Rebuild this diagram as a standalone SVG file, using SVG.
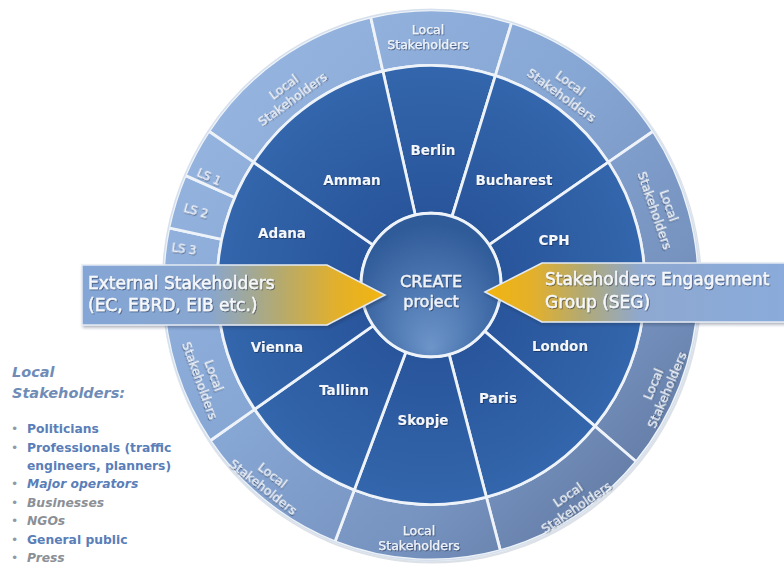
<svg xmlns="http://www.w3.org/2000/svg" width="784" height="564" viewBox="0 0 784 564">
<defs>
  <linearGradient id="ringGrad" gradientUnits="userSpaceOnUse" x1="-268" y1="-268" x2="268" y2="268">
    <stop offset="0" stop-color="#9bb9e3"/>
    <stop offset="0.45" stop-color="#86a6d4"/>
    <stop offset="0.7" stop-color="#7793c0"/>
    <stop offset="1" stop-color="#566e95"/>
  </linearGradient>
  <radialGradient id="diskGrad" gradientUnits="userSpaceOnUse" cx="0" cy="0" r="214">
    <stop offset="0.3" stop-color="#28549a"/>
    <stop offset="1" stop-color="#3366ac"/>
  </radialGradient>
  <radialGradient id="hubGrad" gradientUnits="userSpaceOnUse" cx="0" cy="20" r="80" fx="0" fy="62">
    <stop offset="0" stop-color="#6d95ca"/>
    <stop offset="1" stop-color="#2f5b99"/>
  </radialGradient>
  <linearGradient id="leftArrowGrad" gradientUnits="userSpaceOnUse" x1="82" y1="0" x2="385" y2="0">
    <stop offset="0" stop-color="#84a6d6"/>
    <stop offset="0.42" stop-color="#88a6cf"/>
    <stop offset="0.66" stop-color="#b6aa6c"/>
    <stop offset="0.84" stop-color="#e2b02b"/>
    <stop offset="1" stop-color="#f2b510"/>
  </linearGradient>
  <linearGradient id="rightArrowGrad" gradientUnits="userSpaceOnUse" x1="485" y1="0" x2="784" y2="0">
    <stop offset="0" stop-color="#f2b510"/>
    <stop offset="0.16" stop-color="#e3b02b"/>
    <stop offset="0.32" stop-color="#b4aa70"/>
    <stop offset="0.52" stop-color="#8ea8d0"/>
    <stop offset="1" stop-color="#8aabdb"/>
  </linearGradient>
  <filter id="ts" x="-10%" y="-30%" width="130%" height="160%">
    <feDropShadow dx="0.8" dy="1" stdDeviation="0.6" flood-color="#0d1f3a" flood-opacity="0.55"/>
  </filter>
  <filter id="as" x="-5%" y="-20%" width="115%" height="150%">
    <feDropShadow dx="1.5" dy="2" stdDeviation="1.5" flood-color="#1b2a40" flood-opacity="0.35"/>
  </filter>
  <style>
    .sector{fill:url(#diskGrad);stroke:#eef3f9;stroke-width:2.8;vector-effect:non-scaling-stroke;stroke-linejoin:round}
    .seg{fill:url(#ringGrad);stroke:#eef3f9;stroke-width:2.8;vector-effect:non-scaling-stroke;stroke-linejoin:round}
    .city{font-family:"DejaVu Sans",sans-serif;font-weight:bold;font-size:13.5px;fill:#f3f6fb;text-anchor:middle;filter:url(#ts)}
    .ls{font-family:"DejaVu Sans",sans-serif;font-size:12.5px;fill:#eef3fa;stroke:#eef3fa;stroke-width:0.25;text-anchor:middle;filter:url(#ts)}
    .lss{font-family:"DejaVu Sans",sans-serif;font-size:11.5px;fill:#eef3fa;stroke:#eef3fa;stroke-width:0.25;text-anchor:middle;filter:url(#ts)}
    .arrowtxt{font-family:"DejaVu Sans",sans-serif;font-size:17px;fill:#f6f8fb;stroke:#f6f8fb;stroke-width:0.45;filter:url(#ts)}
    .hubtxt{font-family:"DejaVu Sans",sans-serif;font-size:16px;fill:#eef2f8;stroke:#eef2f8;stroke-width:0.45;text-anchor:middle;filter:url(#ts)}
    .lh{font-family:"DejaVu Sans",sans-serif;font-size:14.5px;font-weight:bold;font-style:italic;fill:#6f8cb7}
    .li{font-family:"DejaVu Sans",sans-serif;font-size:12.3px;font-weight:bold;fill:#5a7eb8}
    .lg{font-family:"DejaVu Sans",sans-serif;font-size:12.3px;font-weight:bold;font-style:italic;fill:#8b8f96}
    .bul{font-family:"DejaVu Sans",sans-serif;font-size:12.3px;fill:#8f9aa8}
  </style>
</defs>

<rect width="784" height="564" fill="#ffffff"/>

<!-- wheel shadow -->
<ellipse cx="432" cy="286.5" rx="270" ry="277" fill="#b9c4d2" opacity="0.5"/>

<g id="wheel" transform="translate(431,285) scale(1,1.026)">
  <!-- outer ring segments -->
  <g id="ls-amman"><path class="seg" d="M-222.17,-149.87 A268,268 0 0 1 -60.30,-261.14 L-48.15,-208.52 A214,214 0 0 0 -177.41,-119.67 Z"/></g>
  <g id="ls-berlin"><path class="seg" d="M-60.30,-261.14 A268,268 0 0 1 80.59,-255.59 L64.35,-204.09 A214,214 0 0 0 -48.15,-208.52 Z"/></g>
  <g id="ls-bucharest"><path class="seg" d="M80.59,-255.59 A268,268 0 0 1 222.17,-149.87 L177.41,-119.67 A214,214 0 0 0 64.35,-204.09 Z"/></g>
  <g id="ls-cph"><path class="seg" d="M222.17,-149.87 A268,268 0 0 1 267.62,14.02 L213.70,11.19 A214,214 0 0 0 177.41,-119.67 Z"/></g>
  <g id="ls-london"><path class="seg" d="M267.62,14.02 A268,268 0 0 1 205.29,172.27 L163.92,137.56 A214,214 0 0 0 213.70,11.19 Z"/></g>
  <g id="ls-paris"><path class="seg" d="M205.29,172.27 A268,268 0 0 1 69.36,258.86 L55.38,206.70 A214,214 0 0 0 163.92,137.56 Z"/></g>
  <g id="ls-skopje"><path class="seg" d="M69.36,258.86 A268,268 0 0 1 -96.05,250.20 L-76.70,199.79 A214,214 0 0 0 55.38,206.70 Z"/></g>
  <g id="ls-tallinn"><path class="seg" d="M-96.05,250.20 A268,268 0 0 1 -220.86,151.80 L-176.36,121.21 A214,214 0 0 0 -76.70,199.79 Z"/></g>
  <g id="ls-vienna"><path class="seg" d="M-220.86,151.80 A268,268 0 0 1 -267.84,9.35 L-213.87,7.47 A214,214 0 0 0 -176.36,121.21 Z"/></g>
  <g id="ls3"><path class="seg" d="M-267.84,9.35 A268,268 0 0 1 -262.13,-55.72 L-209.31,-44.49 A214,214 0 0 0 -213.87,7.47 Z"/></g>
  <g id="ls2"><path class="seg" d="M-262.13,-55.72 A268,268 0 0 1 -245.78,-106.85 L-196.26,-85.32 A214,214 0 0 0 -209.31,-44.49 Z"/></g>
  <g id="ls1"><path class="seg" d="M-245.78,-106.85 A268,268 0 0 1 -222.17,-149.87 L-177.41,-119.67 A214,214 0 0 0 -196.26,-85.32 Z"/></g>
  <circle r="268.5" fill="none" stroke="#d6e0ec" stroke-width="1.4" vector-effect="non-scaling-stroke"/>

  <!-- city sectors -->
  <g id="sector-berlin"><path class="sector" d="M-48.15,-208.52 A214,214 0 0 1 64.35,-204.09 L21.05,-66.76 A70,70 0 0 0 -15.75,-68.21 Z"/></g>
  <g id="sector-bucharest"><path class="sector" d="M64.35,-204.09 A214,214 0 0 1 177.41,-119.67 L58.03,-39.14 A70,70 0 0 0 21.05,-66.76 Z"/></g>
  <g id="sector-cph"><path class="sector" d="M177.41,-119.67 A214,214 0 0 1 213.70,11.19 L69.90,3.66 A70,70 0 0 0 58.03,-39.14 Z"/></g>
  <g id="sector-london"><path class="sector" d="M213.70,11.19 A214,214 0 0 1 163.92,137.56 L53.62,45.00 A70,70 0 0 0 69.90,3.66 Z"/></g>
  <g id="sector-paris"><path class="sector" d="M163.92,137.56 A214,214 0 0 1 55.38,206.70 L18.12,67.61 A70,70 0 0 0 53.62,45.00 Z"/></g>
  <g id="sector-skopje"><path class="sector" d="M55.38,206.70 A214,214 0 0 1 -76.70,199.79 L-25.09,65.35 A70,70 0 0 0 18.12,67.61 Z"/></g>
  <g id="sector-tallinn"><path class="sector" d="M-76.70,199.79 A214,214 0 0 1 -176.36,121.21 L-57.69,39.65 A70,70 0 0 0 -25.09,65.35 Z"/></g>
  <g id="sector-vienna"><path class="sector" d="M-176.36,121.21 A214,214 0 0 1 -213.87,7.47 L-69.96,2.44 A70,70 0 0 0 -57.69,39.65 Z"/></g>
  <g id="sector-adana"><path class="sector" d="M-213.87,7.47 A214,214 0 0 1 -177.41,-119.67 L-58.03,-39.14 A70,70 0 0 0 -69.96,2.44 Z"/></g>
  <g id="sector-amman"><path class="sector" d="M-177.41,-119.67 A214,214 0 0 1 -48.15,-208.52 L-15.75,-68.21 A70,70 0 0 0 -58.03,-39.14 Z"/></g>

  <!-- hub -->
  <g id="hub-shape"><circle r="70" fill="url(#hubGrad)" stroke="#eef3f9" stroke-width="3" vector-effect="non-scaling-stroke"/></g>
</g>

<!-- outer ring labels -->
<g id="labels-local">
  <g transform="translate(288,93) rotate(-36)"><text class="ls" y="-3">Local</text><text class="ls" y="12">Stakeholders</text></g>
  <g transform="translate(428,37)"><text class="ls" y="-3">Local</text><text class="ls" y="12">Stakeholders</text></g>
  <g transform="translate(566,89) rotate(36)"><text class="ls" y="-3">Local</text><text class="ls" y="12">Stakeholders</text></g>
  <g transform="translate(662,208) rotate(71)"><text class="ls" y="-3">Local</text><text class="ls" y="12">Stakeholders</text></g>
  <g transform="translate(660,387) rotate(-67)"><text class="ls" y="-3">Local</text><text class="ls" y="12">Stakeholders</text></g>
  <g transform="translate(572,501) rotate(-34)"><text class="ls" y="-3">Local</text><text class="ls" y="12">Stakeholders</text></g>
  <g transform="translate(419,538)"><text class="ls" y="-3">Local</text><text class="ls" y="12">Stakeholders</text></g>
  <g transform="translate(268,481) rotate(38)"><text class="ls" y="-3">Local</text><text class="ls" y="12">Stakeholders</text></g>
  <g transform="translate(207,378) rotate(70)"><text class="ls" y="-3">Local</text><text class="ls" y="12">Stakeholders</text></g>
  <g transform="translate(209,177) rotate(24)"><text class="lss" y="4">LS 1</text></g>
  <g transform="translate(196,211) rotate(16)"><text class="lss" y="4">LS 2</text></g>
  <g transform="translate(184,249) rotate(8)"><text class="lss" y="4">LS 3</text></g>
</g>

<!-- city labels -->
<g id="berlin"><text class="city" x="433" y="155">Berlin</text></g>
<g id="bucharest"><text class="city" x="514" y="185">Bucharest</text></g>
<g id="cph"><text class="city" x="554" y="245">CPH</text></g>
<g id="london"><text class="city" x="560" y="351">London</text></g>
<g id="paris"><text class="city" x="498" y="403">Paris</text></g>
<g id="skopje"><text class="city" x="423" y="425">Skopje</text></g>
<g id="tallinn"><text class="city" x="344" y="395">Tallinn</text></g>
<g id="vienna"><text class="city" x="277" y="352">Vienna</text></g>
<g id="adana"><text class="city" x="282" y="238">Adana</text></g>
<g id="amman"><text class="city" x="352" y="185">Amman</text></g>

<g id="create-project">
  <text class="hubtxt" x="431" y="287">CREATE</text>
  <text class="hubtxt" x="431" y="307">project</text>
</g>

<!-- connectors: block arrows -->
<g id="connectors">
  <g id="external-stakeholders">
    <polygon points="82,265 327,265 385,295 327,325 82,325" fill="url(#leftArrowGrad)" stroke="#e3eaf4" stroke-width="1.5" filter="url(#as)"/>
    <text class="arrowtxt" x="88" y="289">External Stakeholders</text>
    <text class="arrowtxt" x="88" y="311">(EC, EBRD, EIB etc.)</text>
  </g>
  <g id="seg">
    <polygon points="485,292 542,263 786,263 786,322 542,322" fill="url(#rightArrowGrad)" stroke="#e3eaf4" stroke-width="1.5" filter="url(#as)"/>
    <text class="arrowtxt" x="545" y="285">Stakeholders Engagement</text>
    <text class="arrowtxt" x="545" y="308">Group (SEG)</text>
  </g>
</g>

<!-- side list -->
<g id="local-stakeholders-list">
  <text class="lh" x="12" y="377">Local</text>
  <text class="lh" x="12" y="398">Stakeholders:</text>
  <text class="bul" x="11" y="433">•</text><text class="li" x="27" y="433">Politicians</text>
  <text class="bul" x="11" y="452">•</text><text class="li" x="27" y="452">Professionals (traffic</text>
  <text class="li" x="27" y="470">engineers, planners)</text>
  <text class="bul" x="11" y="488">•</text><text class="li" x="27" y="488" font-style="italic">Major operators</text>
  <text class="bul" x="11" y="507">•</text><text class="lg" x="27" y="507">Businesses</text>
  <text class="bul" x="11" y="525">•</text><text class="lg" x="27" y="525">NGOs</text>
  <text class="bul" x="11" y="544">•</text><text class="li" x="27" y="544">General public</text>
  <text class="bul" x="11" y="562">•</text><text class="lg" x="27" y="562">Press</text>
</g>
</svg>
